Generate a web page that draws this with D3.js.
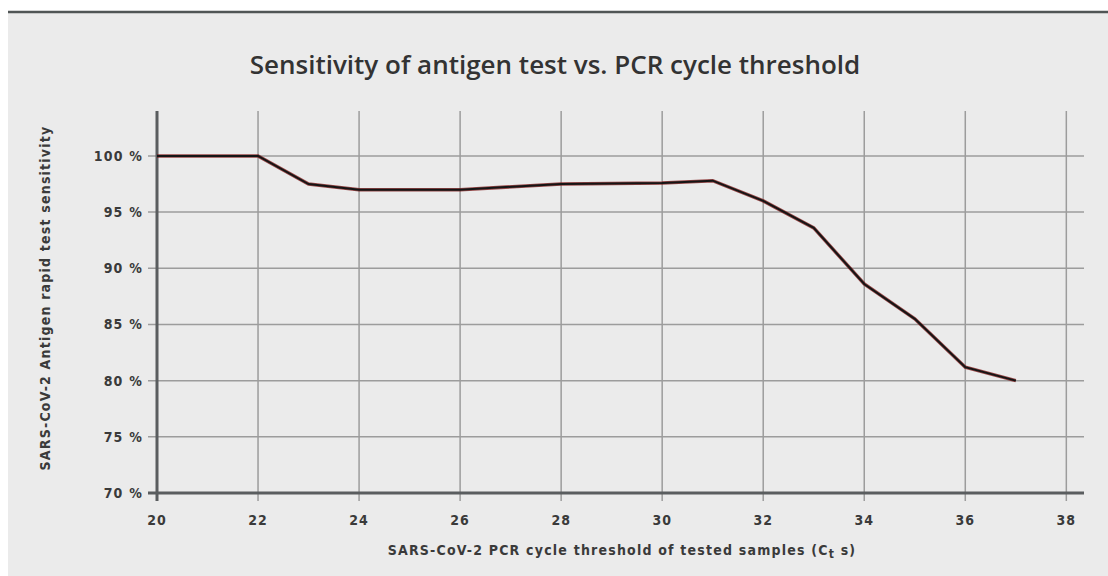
<!DOCTYPE html>
<html lang="en">
    <head>
        <meta charset="UTF-8" />
        <title>D3</title>
        <script src="https://d3js.org/d3.v7.min.js"></script>
        <style>
            body { margin: 0; background: #fff; }
            text { font-family: "DejaVu Sans Condensed", "DejaVu Sans", sans-serif; }
        </style>
    </head>
    <body>
        <div class="canvas"></div>
        <script>
            // data
            const ctValues = [20, 22, 23, 24, 26, 28, 30, 31, 32, 33, 34, 35, 36, 37];
            const sensitivity = [100, 100, 97.5, 97, 97, 97.5, 97.6, 97.8, 96, 93.6, 88.6, 85.5, 81.2, 80];
            const xTicks = [20, 22, 24, 26, 28, 30, 32, 34, 36, 38];
            const yTicks = [70, 75, 80, 85, 90, 95, 100];

            const width = 1108;
            const height = 576;

            const svg = d3
                .select(".canvas")
                .append("svg")
                .attr("width", width)
                .attr("height", height);

            // panel
            svg.append("rect")
                .attr("x", 8).attr("y", 12)
                .attr("width", width - 8).attr("height", height - 12)
                .attr("fill", "#ebebeb");
            svg.append("line")
                .attr("x1", 8).attr("x2", width)
                .attr("y1", 12).attr("y2", 12)
                .attr("stroke", "#505555").attr("stroke-width", 2.5);

            const x = d3.scaleLinear().domain([20, 38.35]).range([157, 1084]);
            const y = d3.scaleLinear().domain([70, 104]).range([493, 111]);

            const grid = svg.append("g");

            // horizontal grid
            grid.selectAll(".hg")
                .data(yTicks.filter((d) => d > 70))
                .enter()
                .append("line")
                .attr("x1", x(20) - 9)
                .attr("x2", x.range()[1])
                .attr("y1", (d) => y(d))
                .attr("y2", (d) => y(d))
                .attr("stroke", "#9c9c9c")
                .attr("stroke-width", 1.5);

            // vertical grid
            grid.selectAll(".vg")
                .data(xTicks.filter((d) => d > 20))
                .enter()
                .append("line")
                .attr("x1", (d) => x(d))
                .attr("x2", (d) => x(d))
                .attr("y1", y.range()[1])
                .attr("y2", y(70) + 8)
                .attr("stroke", "#9c9c9c")
                .attr("stroke-width", 1.5);

            // axis lines
            svg.append("line")
                .attr("x1", x(20)).attr("x2", x(20))
                .attr("y1", y.range()[1]).attr("y2", y(70) + 8)
                .attr("stroke", "#5a5d5f").attr("stroke-width", 3);
            svg.append("line")
                .attr("x1", x(20) - 9).attr("x2", x.range()[1])
                .attr("y1", y(70)).attr("y2", y(70))
                .attr("stroke", "#5a5d5f").attr("stroke-width", 3);

            // tick labels
            svg.append("g")
                .selectAll("text")
                .data(yTicks)
                .enter()
                .append("text")
                .attr("x", x(20) - 14)
                .attr("y", (d) => y(d))
                .attr("dy", "0.35em")
                .attr("text-anchor", "end")
                .attr("fill", "#3a3a3a")
                .style("font-size", "14px")
                .style("letter-spacing", "1.2px")
                .style("font-weight", "bold")
                .text((d) => d + " %");

            svg.append("g")
                .selectAll("text")
                .data(xTicks)
                .enter()
                .append("text")
                .attr("x", (d) => x(d))
                .attr("y", y(70) + 32)
                .attr("text-anchor", "middle")
                .attr("fill", "#3a3a3a")
                .style("font-size", "14px")
                .style("letter-spacing", "1px")
                .style("font-weight", "bold")
                .text((d) => d);

            // line
            const pts = ctValues.map((c, i) => [c, sensitivity[i]]);
            const line = d3.line().x((d) => x(d[0])).y((d) => y(d[1]));

            svg.append("path")
                .attr("d", line(pts))
                .attr("fill", "none")
                .attr("stroke", "#7a1010")
                .attr("stroke-width", 3.5)
                .attr("stroke-opacity", 0.75);
            svg.append("path")
                .attr("d", line(pts))
                .attr("fill", "none")
                .attr("stroke", "#151515")
                .attr("stroke-width", 2);

            // titles
            svg.append("text")
                .attr("x", 555)
                .attr("y", 74)
                .attr("text-anchor", "middle")
                .attr("fill", "#333")
                .style("font-family", "'Open Sans', sans-serif")
                .style("font-size", "26px")
                .style("font-weight", "600")
                .text("Sensitivity of antigen test vs. PCR cycle threshold");

            const xt = svg.append("text")
                .attr("x", 622)
                .attr("y", 555)
                .attr("text-anchor", "middle")
                .attr("fill", "#3a3a3a")
                .style("font-size", "14px")
                .style("letter-spacing", "1.2px")
                .style("font-weight", "bold");
            xt.append("tspan").text("SARS-CoV-2 PCR cycle threshold of tested samples (C");
            xt.append("tspan").attr("dy", 3).style("font-size", "12px").text("t");
            xt.append("tspan").attr("dy", -3).text(" s)");

            svg.append("text")
                .attr("transform", "translate(50, 298) rotate(-90)")
                .attr("text-anchor", "middle")
                .attr("fill", "#3a3a3a")
                .style("font-size", "14px")
                .style("letter-spacing", "1.2px")
                .style("font-weight", "bold")
                .text("SARS-CoV-2 Antigen rapid test sensitivity");
        </script>
    </body>
</html>
